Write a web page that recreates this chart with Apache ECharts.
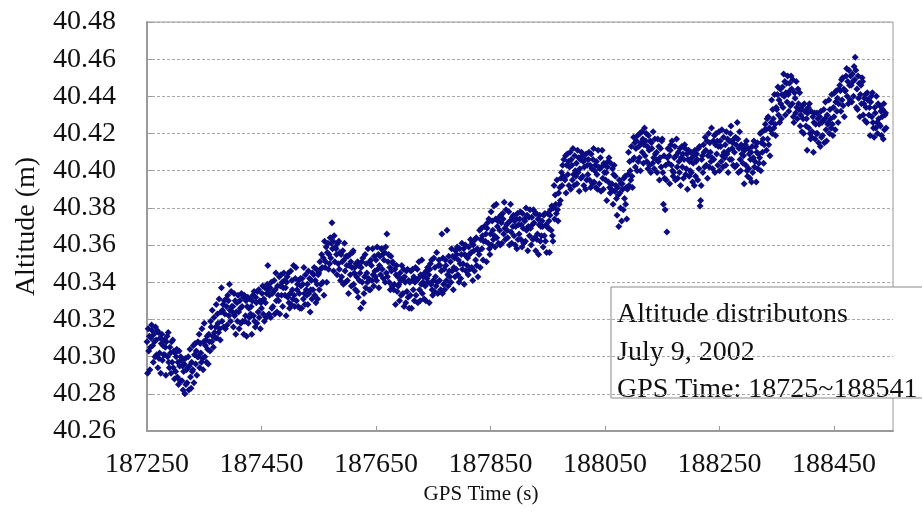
<!DOCTYPE html>
<html>
<head>
<meta charset="utf-8">
<title>Altitude distributions</title>
<script src="https://cdn.jsdelivr.net/npm/echarts@6/dist/echarts.min.js"></script>
<style>
  html, body { margin: 0; padding: 0; background: #fff; }
  #chart { width: 922px; height: 512px; }
</style>
</head>
<body>
<div id="chart"></div>
<script>
// GPS altitude samples, one per second, stored as millimetres above 40.26 m.
// Each array holds 100 s of samples, named by its first GPS second.
const startTime = 187250;
const altitudeBase = 40.26;

const alt187250 = [
  48,31,55,43,51,33,45,50,57,54, 46,37,52,48,40,56,49,41,54,34,
  53,39,42,50,31,47,52,38,46,41, 49,41,45,30,48,51,40,53,37,34,
  45,42,31,48,37,49,34,43,28,42, 32,40,44,29,37,25,43,35,27,40,
  38,27,35,22,32,36,20,39,25,33, 26,34,40,22,35,44,29,23,37,32,
  33,46,26,41,47,36,43,30,40,48, 40,52,34,47,42,37,55,39,33,48
];
const alt187350 = [
  58,40,46,49,37,51,44,36,52,48, 43,59,56,48,65,51,45,61,53,50,
  56,68,50,63,58,53,71,55,49,64, 77,59,65,68,56,70,63,55,71,67,
  57,73,70,62,79,65,59,75,67,64, 67,56,74,62,70,52,64,69,59,73,
  64,55,70,66,58,74,67,59,72,52, 73,59,62,70,51,67,72,58,66,61,
  71,63,67,52,70,73,62,75,59,56, 72,69,58,75,64,76,61,70,55,69
];
const alt187450 = [
  66,74,78,63,71,59,77,69,61,74, 79,89,76,63,73,77,61,80,66,74,
  67,75,81,63,76,85,70,64,78,73, 70,83,63,78,84,73,80,67,77,85,
  81,73,77,62,80,83,72,85,69,66, 74,86,68,81,76,71,89,73,67,82,
  88,70,76,79,67,81,74,66,82,78, 66,82,79,71,88,74,68,84,76,73,
  79,68,86,74,82,64,76,81,71,85, 76,84,88,73,81,69,87,79,71,84
];
const alt187550 = [
  85,76,91,87,79,95,88,80,93,73, 102,88,91,99,80,96,101,87,95,90,
  104,93,101,112,98,102,86,105,91,99, 98,95,84,101,90,102,87,96,81,95,
  83,91,97,79,92,101,86,80,94,89, 81,94,74,89,95,84,91,78,88,96,
  97,79,85,88,76,90,83,75,91,72, 89,81,85,66,88,91,80,93,69,74,
  83,95,77,90,85,80,98,82,76,91, 76,92,89,81,98,84,78,94,86,83
];
const alt187650 = [
  92,81,99,87,95,77,89,94,84,98, 98,87,95,82,92,96,80,99,85,106,
  83,91,95,80,88,76,94,86,78,91, 90,76,79,87,68,84,89,75,83,78,
  79,70,85,81,73,89,82,74,87,67, 83,80,69,86,75,87,72,81,66,80,
  73,86,66,81,87,76,83,70,80,88, 73,81,87,69,82,91,76,70,84,79,
  92,74,80,83,71,85,78,70,86,82, 88,80,84,69,87,90,79,92,76,73
];
const alt187750 = [
  81,93,75,88,83,78,96,80,74,89, 92,81,89,76,86,106,74,93,79,87,
  76,92,89,81,108,84,78,94,86,83, 91,80,98,86,94,76,88,93,83,97,
  87,95,99,84,92,80,98,90,82,95, 101,87,90,98,79,95,100,86,94,89,
  93,84,99,95,87,103,96,88,101,81, 100,97,86,103,92,104,89,98,83,97,
  95,108,88,103,109,98,105,92,102,110, 110,102,106,91,109,112,101,114,98,95
];
const alt187850 = [
  106,118,100,113,108,103,121,105,99,114, 122,104,110,113,101,115,108,100,116,112,
  101,117,114,106,123,109,103,119,111,108, 104,112,118,100,113,122,107,101,115,110,
  116,105,113,100,110,114,98,117,103,111, 106,114,118,103,111,99,117,109,101,114,
  113,102,120,108,116,97,110,115,105,119, 109,100,115,111,103,119,112,104,117,97,
  117,103,106,114,95,111,116,102,110,105, 113,110,99,116,105,117,102,111,96,110
];
const alt187950 = [
  117,109,113,96,116,119,108,121,105,102, 120,132,114,127,122,117,135,119,113,128,
  122,131,124,136,139,132,143,137,146,136, 135,148,128,143,149,138,145,132,142,150,
  130,146,143,135,152,138,132,148,140,137, 144,133,151,139,147,129,141,146,136,150,
  148,137,145,132,142,146,130,149,135,143, 138,146,150,135,143,131,149,141,133,146,
  152,134,140,143,131,145,138,130,151,142, 133,141,147,129,142,151,136,130,144,139
];
const alt188050 = [
  143,135,139,124,142,145,134,147,131,128, 144,130,133,141,122,138,143,129,137,132,
  125,116,131,127,110,135,128,120,133,113, 133,130,119,136,125,137,122,131,114,130,
  138,150,132,145,140,135,153,137,131,146, 158,147,155,142,152,156,140,159,145,153,
  147,160,140,155,161,150,157,144,154,163, 148,156,160,145,153,141,159,151,143,156,
  139,155,152,144,161,147,141,157,149,146, 150,139,157,145,153,135,147,152,142,156
];
const alt188150 = [
  157,139,122,148,136,119,143,135,107,147, 152,144,148,133,151,154,143,156,140,137,
  139,147,153,135,148,157,142,136,150,145, 139,152,132,147,153,142,149,136,146,154,
  152,138,141,149,130,146,151,137,145,140, 150,139,147,134,144,148,132,151,137,145,
  149,146,135,152,141,153,121,124,132,146, 148,139,154,150,142,158,151,143,156,136,
  148,160,142,155,150,145,163,147,141,156, 146,159,139,154,160,149,156,143,153,161
];
const alt188250 = [
  140,156,153,145,162,148,142,158,150,147, 154,143,161,149,157,139,151,156,146,160,
  164,146,152,155,143,157,150,142,158,154, 143,166,157,139,152,161,146,140,154,149,
  152,144,148,133,151,154,143,156,140,137, 152,141,149,136,146,150,134,153,139,147,
  156,142,145,153,134,150,155,141,149,144, 147,160,140,155,161,150,157,144,154,162,
  165,162,151,168,157,169,154,163,148,162, 166,178,160,173,168,163,181,165,159,174
];
const alt188350 = [
  173,181,185,170,178,166,184,176,168,181, 185,174,192,180,188,170,182,187,177,191,
  181,172,187,183,175,191,184,176,189,169, 166,182,179,171,188,174,168,184,176,173,
  182,164,170,173,161,175,168,160,176,172, 172,164,168,151,171,174,163,176,160,157,
  172,158,161,169,150,166,171,157,165,160, 171,160,168,155,165,169,153,172,158,166,
  159,167,173,155,168,177,162,156,170,165, 166,178,160,173,168,163,181,165,159,174
];
const alt188450 = [
  169,182,162,177,183,172,179,166,176,184, 186,183,172,189,178,190,175,184,169,183,
  183,191,195,180,188,176,194,186,178,191, 186,177,192,188,180,196,189,201,194,174,
  184,173,191,179,187,169,181,186,176,190, 188,170,176,179,167,181,174,166,182,178,
  178,170,174,159,177,180,169,182,166,163, 158,174,171,163,180,166,160,176,168,165,
  175,164,172,159,169,173,157,176,162,170, 171,163
];

const noteLines = [
  'Altitude distributons',
  'July 9, 2002',
  'GPS Time: 18725~188541'
];

const chunks = [
  alt187250, alt187350, alt187450, alt187550, alt187650, alt187750, alt187850,
  alt187950, alt188050, alt188150, alt188250, alt188350, alt188450
];

// x is seconds elapsed since startTime; labels show the GPS second.
const points = [];
chunks.forEach((chunk, k) => {
  chunk.forEach((mm, i) => {
    points.push([k * 100 + i, +(altitudeBase + mm / 1000).toFixed(3)]);
  });
});

const serif = '"Liberation Serif", "Times New Roman", serif';
const chart = echarts.init(document.getElementById('chart'), null, { renderer: 'canvas' });

chart.setOption({
  animation: false,
  backgroundColor: '#ffffff',
  grid: {
    left: 147, top: 22, right: 29, bottom: 81,
    show: true, borderColor: '#9a9a9a', borderWidth: 1, backgroundColor: 'transparent'
  },
  xAxis: {
    type: 'value',
    min: 0, max: 1303, interval: 200,
    name: 'GPS Time (s)',
    nameLocation: 'middle',
    nameGap: 44,
    nameTextStyle: { fontFamily: serif, fontSize: 21, color: '#111', padding: [0, 78, 0, 0] },
    axisLine: { show: true, lineStyle: { color: '#9a9a9a', width: 2 } },
    axisTick: { show: true, inside: true, length: 5, lineStyle: { color: '#9a9a9a' } },
    axisLabel: {
      fontFamily: serif, fontSize: 28, color: '#111', margin: 20,
      showMaxLabel: false,
      formatter: v => String(startTime + v)
    },
    splitLine: { show: false }
  },
  yAxis: {
    type: 'value',
    min: 40.26, max: 40.48, interval: 0.02,
    name: 'Altitude (m)',
    nameLocation: 'middle',
    nameGap: 106,
    nameTextStyle: { fontFamily: serif, fontSize: 28, color: '#111' },
    axisLine: { show: true, lineStyle: { color: '#9a9a9a', width: 2 } },
    axisTick: { show: true, inside: true, length: 5, lineStyle: { color: '#9a9a9a' } },
    axisLabel: {
      fontFamily: serif, fontSize: 28, color: '#111', margin: 31,
      formatter: v => v.toFixed(2)
    },
    splitLine: { show: true, lineStyle: { color: '#a8a8a8', type: [3, 2], width: 1 } }
  },
  series: [{
    type: 'scatter',
    data: points,
    symbol: 'diamond',
    symbolSize: 7,
    itemStyle: { color: '#0c0c82', opacity: 1 }
  }],
  graphic: [{
    type: 'group',
    z: 100,
    children: [
      {
        type: 'rect',
        shape: { x: 611, y: 287, width: 330, height: 111 },
        style: { fill: '#ffffff', stroke: '#8a8a8a', lineWidth: 1 }
      }
    ].concat(noteLines.map((line, i) => ({
      type: 'text',
      x: 617,
      y: 315 + i * 37.5,
      style: { text: line, font: '28px ' + serif, fill: '#111', verticalAlign: 'middle' }
    })))
  }]
});
</script>
</body>
</html>
